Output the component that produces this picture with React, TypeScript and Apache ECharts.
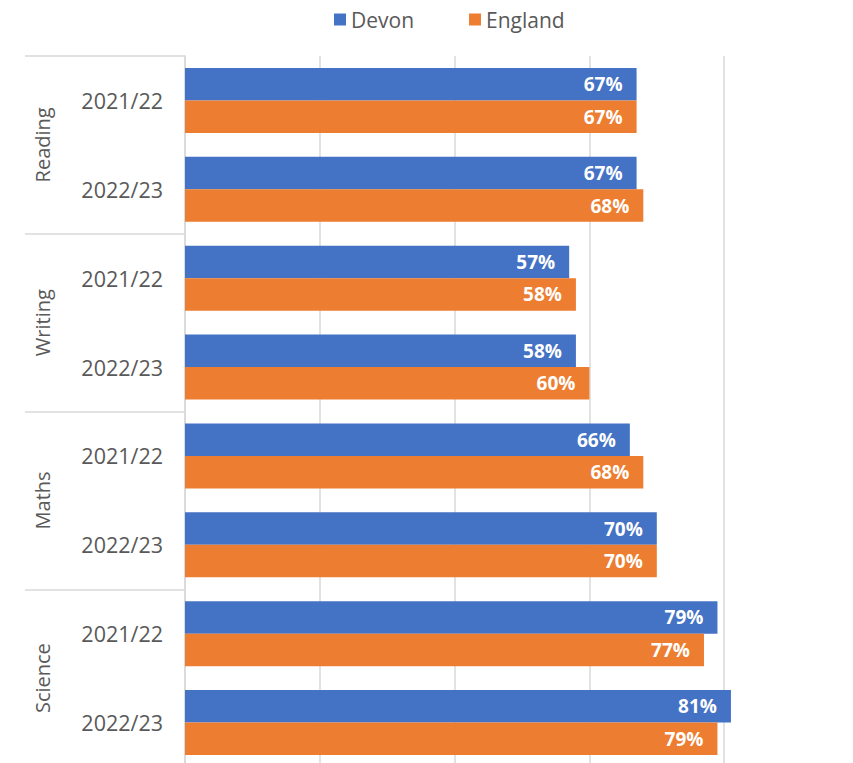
import React, { useEffect, useRef } from "react";
import * as echarts from "echarts";

const subjects = ["Reading", "Writing", "Maths", "Science"];
const years = ["2021/22", "2022/23"];
const yearLabels = subjects.flatMap(() => years);
const devon = [67, 67, 57, 58, 66, 70, 79, 81];
const england = [67, 68, 58, 60, 68, 70, 77, 79];
const xTicks = { min: 0, max: 100, interval: 20 };

const FONT = "'Open Sans', 'Noto Sans', sans-serif";
const GRAY_TEXT = "#595959";
const GRID_LINE = "#d9d9d9";

export default function App() {
  const ref = useRef<HTMLDivElement>(null);
  useEffect(() => {
    if (!ref.current) return;
    const chart = echarts.init(ref.current, undefined, { renderer: "svg" });
    const labelStyle = {
      show: true,
      position: "insideRight" as const,
      distance: 14,
      color: "#ffffff",
      fontWeight: "bold" as const,
      fontSize: 19,
      fontFamily: FONT,
      formatter: "{c}%",
    };
    chart.setOption({
      animation: false,
      textStyle: { fontFamily: FONT },
      legend: {
        top: 4,
        left: 329,
        icon: "rect",
        itemWidth: 12,
        itemHeight: 12,
        itemGap: 55,
        textStyle: { color: GRAY_TEXT, fontSize: 21, fontFamily: FONT },
        data: ["Devon", "England"],
      },
      grid: { left: 185, top: 56, width: 674, height: 711 },
      xAxis: {
        type: "value",
        min: xTicks.min,
        max: xTicks.max,
        interval: xTicks.interval,
        axisLabel: { show: false },
        axisLine: { show: false },
        axisTick: { show: false },
        splitLine: { show: true, lineStyle: { color: GRID_LINE, width: 1.5 } },
      },
      yAxis: [
        {
          type: "category",
          data: yearLabels,
          inverse: true,
          position: "left",
          axisLine: { show: true, lineStyle: { color: GRID_LINE, width: 1.5 } },
          axisTick: { show: false },
          axisLabel: {
            color: GRAY_TEXT,
            fontSize: 21.5,
            fontFamily: FONT,
            margin: 22,
          },
        },
        {
          type: "category",
          data: subjects,
          inverse: true,
          position: "left",
          offset: 0,
          axisLine: { show: false },
          axisTick: {
            show: true,
            length: 160,
            lineStyle: { color: GRID_LINE, width: 1.5 },
          },
          axisLabel: {
            color: GRAY_TEXT,
            fontSize: 20,
            fontFamily: FONT,
            rotate: 90,
            margin: 133,
          },
        },
      ],
      series: [
        {
          name: "Devon",
          type: "bar",
          yAxisIndex: 0,
          data: devon,
          itemStyle: { color: "#4472C4" },
          barGap: "0%",
          barCategoryGap: "27%",
          label: labelStyle,
        },
        {
          name: "England",
          type: "bar",
          yAxisIndex: 0,
          data: england,
          itemStyle: { color: "#ED7D31" },
          barGap: "0%",
          barCategoryGap: "27%",
          label: labelStyle,
        },
      ],
    });
    return () => chart.dispose();
  }, []);
  return (
    <div
      style={{
        position: "absolute",
        left: 0,
        top: 0,
        width: 853,
        height: 763,
        overflow: "hidden",
        background: "#fff",
      }}
    >
      <div ref={ref} style={{ width: 870, height: 780 }} />
    </div>
  );
}
